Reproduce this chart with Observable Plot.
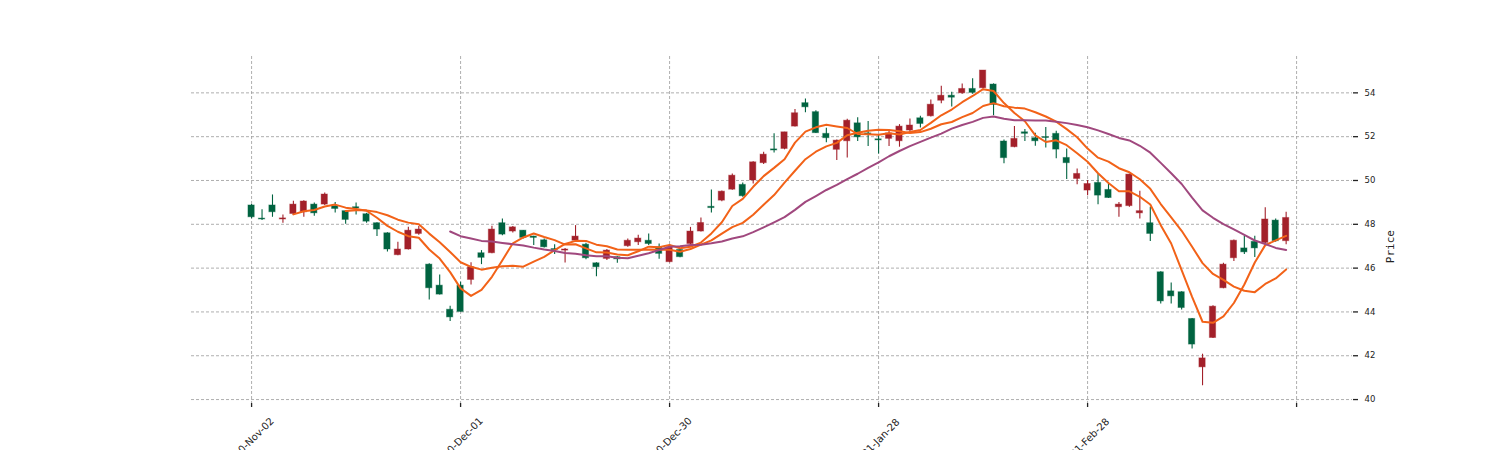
<!DOCTYPE html>
<html>
<head>
<meta charset="utf-8">
<script src="https://cdn.jsdelivr.net/npm/d3@7"></script>
<script src="https://cdn.jsdelivr.net/npm/@observablehq/plot@0.6"></script>
<style>
  html, body { margin: 0; padding: 0; background: #fff; }
  #chart svg { display: block; }
</style>
</head>
<body>
<div id="chart"></div>
<script>
// ---- data (red = up, green = down) ----
const opens = [48.86,48.26,48.86,48.22,48.47,48.55,48.90,48.90,48.82,48.60,
  48.78,48.46,48.05,47.59,46.59,46.85,47.56,46.16,45.20,44.10,
  45.20,45.46,46.68,46.68,48.05,47.67,47.71,47.44,47.27,46.87,
  46.80,47.25,47.07,46.22,46.42,46.50,47.00,47.18,47.25,46.95,
  46.27,46.83,47.10,47.67,48.80,49.08,49.58,49.80,50.00,50.79,
  51.42,51.44,52.46,53.53,53.12,52.13,51.40,51.79,52.61,52.15,
  51.88,51.90,51.79,52.28,52.84,52.93,53.64,53.87,53.98,54.18,
  54.21,54.38,51.78,51.52,52.20,51.93,51.98,52.13,51.03,50.07,
  49.54,49.89,49.57,48.78,48.83,48.50,48.05,45.81,44.94,44.90,
  43.68,41.47,42.81,45.08,46.45,46.90,47.20,47.15,48.17,47.23];
const highs = [48.90,48.66,49.34,48.43,49.05,49.08,48.97,49.43,49.00,48.62,
  48.97,48.50,48.07,47.62,47.18,47.87,47.90,46.20,45.69,44.26,
  45.35,46.24,46.80,47.91,48.24,47.90,47.72,47.46,47.33,47.07,
  46.90,47.94,47.13,46.25,46.85,46.52,47.33,47.50,47.56,47.10,
  47.05,46.87,47.86,48.29,49.57,49.52,50.30,49.89,50.85,51.29,
  52.13,52.20,53.24,53.72,53.18,52.39,51.85,52.80,52.86,52.69,
  52.05,52.28,52.55,52.81,52.93,53.67,54.30,54.03,54.41,54.64,
  55.02,54.41,51.85,52.46,52.33,52.16,52.42,52.25,51.44,50.53,
  50.00,50.30,49.84,49.00,50.30,49.51,48.78,45.83,45.32,44.92,
  43.70,42.07,44.28,46.22,47.28,47.45,47.45,48.75,48.24,48.55];
const lows = [48.25,48.17,48.32,48.05,48.40,48.32,48.37,48.86,48.52,48.00,
  48.43,48.05,47.44,46.74,46.57,46.83,47.50,44.55,44.77,43.56,
  44.00,45.23,46.16,46.66,47.48,47.60,47.33,47.03,46.92,46.62,
  46.23,47.20,46.38,45.61,46.35,46.22,46.95,47.03,47.03,46.40,
  46.25,46.47,47.08,47.65,48.52,49.03,49.55,49.23,49.84,50.73,
  51.25,51.40,52.44,53.09,52.14,51.72,50.91,51.03,51.78,51.55,
  51.21,51.55,51.52,52.16,52.40,52.90,53.50,53.35,53.94,53.94,
  54.18,52.96,50.76,51.50,51.78,51.56,51.48,50.99,50.04,49.81,
  49.30,48.89,49.18,48.32,48.78,48.24,47.21,44.36,44.36,44.09,
  42.31,40.63,42.79,45.06,46.30,46.62,46.49,47.12,47.18,47.07];
const closes = [48.32,48.22,48.55,48.27,48.90,49.04,48.50,49.36,48.70,48.20,
  48.72,48.12,47.76,46.85,46.85,47.71,47.76,45.08,44.79,43.75,
  44.00,46.04,46.47,47.76,47.53,47.86,47.38,47.38,46.95,46.82,
  46.85,47.44,46.45,46.04,46.80,46.40,47.25,47.35,47.10,46.65,
  46.95,46.50,47.67,48.06,48.74,49.49,50.22,49.28,50.83,51.18,
  51.37,52.20,53.07,53.34,52.16,51.93,51.82,52.73,51.97,52.10,
  51.83,52.15,52.46,52.51,52.58,53.46,53.87,53.78,54.18,54.00,
  55.02,53.45,51.02,51.90,52.13,51.79,51.94,51.41,50.79,50.30,
  49.84,49.31,49.20,48.90,50.27,48.60,47.56,44.48,44.71,44.18,
  42.51,41.88,44.24,46.16,47.25,46.72,46.90,48.22,47.23,48.29];
const movingAverages = [5, 10, 20];
const tickPositions = [0, 20, 40, 60, 80, 100];
const tickLabels = ["2020-Nov-02", "2020-Dec-01", "2020-Dec-30", "2021-Jan-28", "2021-Feb-28"];
const yTicks = [40, 42, 44, 46, 48, 50, 52, 54];

// ---- table built from the arrays ----
const bars = opens.map((o, i) => ({
  i, open: o, high: highs[i], low: lows[i], close: closes[i],
  lo: Math.min(o, closes[i]), hi: Math.max(o, closes[i]),
  up: closes[i] >= o
}));
const labelRows = tickLabels.map((t, k) => ({x: tickPositions[k], t}));

const UP = "#a3202a", DOWN = "#006340";
const maColors = ["#f26218", "#f26218", "#a0487e"];
const gridStyle = {stroke: "#9a9a9a", strokeOpacity: 1, strokeWidth: 0.8, strokeDasharray: "3,2"};

const chart = Plot.plot({
  width: 1500,
  height: 450,
  marginLeft: 191,
  marginRight: 148,
  marginTop: 56,
  marginBottom: 47,
  style: {background: "#fff", fontFamily: "DejaVu Sans", overflow: "visible"},
  x: {type: "linear", domain: [-5.75, 105.35], axis: null},
  y: {domain: [39.82, 55.66], axis: null},
  marks: [
    Plot.gridX(tickPositions, gridStyle),
    Plot.gridY(yTicks, gridStyle),
    Plot.axisX(tickPositions, {tickSize: 4, tickFormat: () => "", stroke: "#222", strokeWidth: 1.3}),
    Plot.text(labelRows, {x: "x", text: "t", frameAnchor: "bottom", dy: 41, rotate: -45,
      textAnchor: "middle", fontSize: 10, fill: "#222"}),
    Plot.axisY(yTicks, {anchor: "right", tickSize: 5, tickPadding: 7, fontSize: 8.5,
      stroke: "#222", strokeWidth: 1.3, fill: "#222", label: null}),
    Plot.text(["Price"], {frameAnchor: "right", dx: 38, rotate: -90, fontSize: 11,
      fontFamily: "DejaVu Sans Mono", fill: "#222"}),
    // wicks
    Plot.ruleX(bars, {x: "i", y1: "low", y2: "high", stroke: d => d.up ? UP : DOWN, strokeWidth: 1.1}),
    // bodies
    Plot.rect(bars, {x1: d => d.i - 0.3, x2: d => d.i + 0.3, y1: "lo", y2: "hi",
      fill: d => d.up ? UP : DOWN, stroke: d => d.up ? UP : DOWN, strokeOpacity: 0.4, strokeWidth: 1}),
    // moving averages
    ...movingAverages.map((k, m) => Plot.lineY(bars, Plot.windowY(
      {k, anchor: "end", reduce: "mean", strict: true},
      {x: "i", y: "close", stroke: maColors[m], strokeWidth: 2}
    )))
  ]
});
document.getElementById("chart").appendChild(chart);
</script>
</body>
</html>
